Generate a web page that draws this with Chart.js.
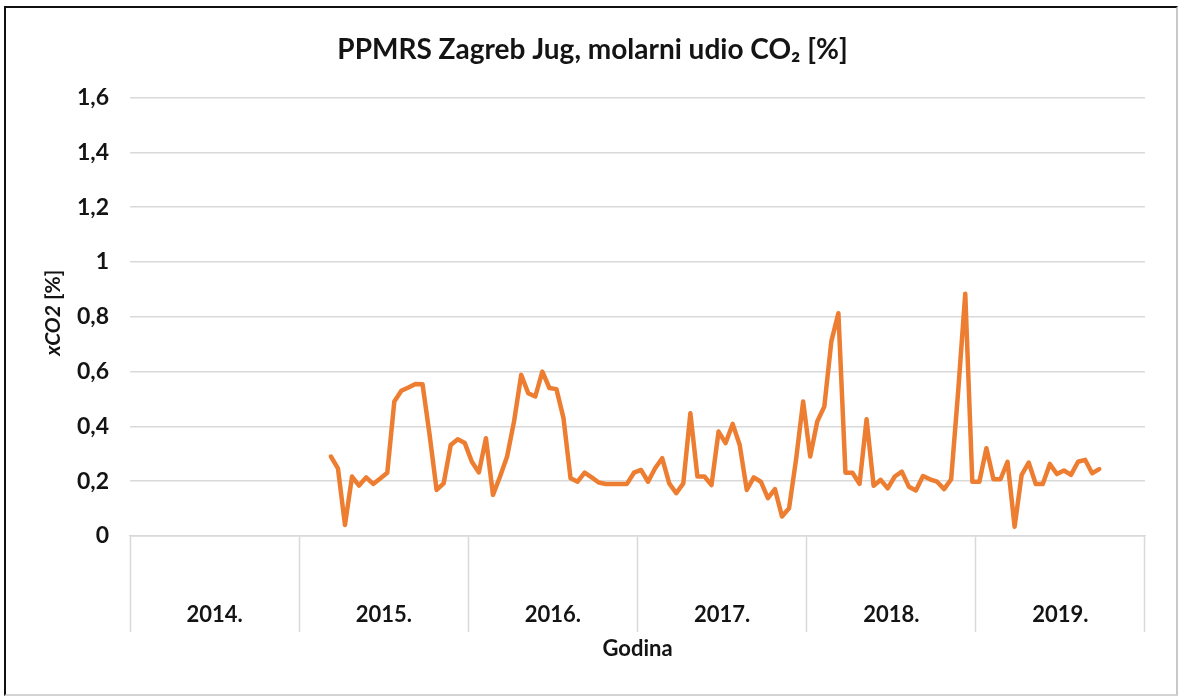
<!DOCTYPE html>
<html>
<head>
<meta charset="utf-8">
<script src="https://cdn.jsdelivr.net/npm/chart.js@4.4.0/dist/chart.umd.min.js"></script>
<style>
  html, body { margin: 0; padding: 0; background: #fff; }
  #frame { position: absolute; left: 4px; top: 6px; width: 1170px; height: 686px;
    border-left: 2px solid #111; border-top: 2px solid #111;
    border-right: 2px solid #c8c8c8; border-bottom: 2px solid #d4d4d4; }
  canvas { display: block; }
</style>
</head>
<body>
<div id="frame"><canvas id="myChart" width="1170" height="686"></canvas></div>
<script>
const years = ['2014.', '2015.', '2016.', '2017.', '2018.', '2019.'];
const slotsPerYear = 24; // about two readings a month

// xCO2 [%] readings per year, null = no measurement
const v2014 = [];
const v2015 = [null, null, null, null, 0.29, 0.247, 0.04, 0.217, 0.184, 0.214, 0.19, 0.21,
  0.231, 0.491, 0.53, 0.542, 0.555, 0.554, 0.37, 0.168, 0.192, 0.332, 0.353, 0.339];
const v2016 = [0.271, 0.232, 0.357, 0.15, 0.217, 0.29, 0.42, 0.588, 0.521, 0.509, 0.6, 0.54,
  0.536, 0.43, 0.211, 0.198, 0.231, 0.214, 0.195, 0.19, 0.19, 0.19, 0.19, 0.231];
const v2017 = [0.241, 0.198, 0.247, 0.284, 0.192, 0.156, 0.192, 0.448, 0.217, 0.217, 0.186, 0.381,
  0.339, 0.409, 0.332, 0.168, 0.214, 0.198, 0.138, 0.171, 0.071, 0.101, 0.28, 0.491];
const v2018 = [0.29, 0.418, 0.472, 0.71, 0.813, 0.231, 0.231, 0.19, 0.426, 0.183, 0.205, 0.174,
  0.217, 0.235, 0.18, 0.166, 0.219, 0.207, 0.198, 0.171, 0.207, 0.53, 0.884, 0.198];
const v2019 = [0.198, 0.32, 0.207, 0.207, 0.271, 0.034, 0.223, 0.268, 0.19, 0.19, 0.263, 0.226,
  0.239, 0.223, 0.271, 0.278, 0.229, 0.244];

const yTicks = [0, 0.2, 0.4, 0.6, 0.8, 1, 1.2, 1.4, 1.6];

const font = 'Lato, "Noto Sans", sans-serif';
const textColor = '#141414';
const gridColor = '#d9d9d9';

// each year gets the same number of slots, like the grouped axis in the original
const perYear = [v2014, v2015, v2016, v2017, v2018, v2019];
const labels = [];
const values = [];
perYear.forEach((arr, i) => {
  for (let k = 0; k < slotsPerYear; k++) {
    labels.push(years[i]);
    values.push(k < arr.length ? arr[k] : null);
  }
});

const yTitle = {
  id: 'yTitle',
  afterDraw(chart) {
    const { ctx, chartArea } = chart;
    ctx.save();
    ctx.translate(47, (chartArea.top + chartArea.bottom) / 2 - 4);
    ctx.rotate(-Math.PI / 2);
    ctx.fillStyle = textColor;
    ctx.textBaseline = 'middle';
    ctx.textAlign = 'left';
    const f1 = 'italic bold 21px ' + font;
    const f2 = 'bold 21px ' + font;
    ctx.font = f1;
    const w1 = ctx.measureText('xCO2').width;
    ctx.font = f2;
    const w2 = ctx.measureText(' [%]').width;
    const x = -(w1 + w2) / 2;
    ctx.font = f1;
    ctx.fillText('xCO2', x, 0);
    ctx.font = f2;
    ctx.fillText(' [%]', x + w1, 0);
    ctx.restore();
  }
};

new Chart(document.getElementById('myChart').getContext('2d'), {
  type: 'line',
  data: {
    labels: labels,
    datasets: [{
      label: 'xCO2',
      data: values,
      borderColor: '#ED7D31',
      backgroundColor: '#ED7D31',
      borderWidth: 4.5,
      pointRadius: 0,
      tension: 0,
      borderJoinStyle: 'round',
      borderCapStyle: 'round'
    }]
  },
  options: {
    responsive: false,
    animation: false,
    layout: { padding: { left: 34, right: 31, top: 0, bottom: 0 } },
    plugins: {
      legend: { display: false },
      tooltip: { enabled: false },
      title: {
        display: true,
        text: 'PPMRS Zagreb Jug, molarni udio CO₂ [%]',
        color: textColor,
        font: { family: font, size: 28, weight: 'bold' },
        padding: { top: 25.2, bottom: 30.7 }
      }
    },
    scales: {
      x: {
        type: 'category',
        offset: true,
        grid: {
          offset: true,
          drawOnChartArea: false,
          drawTicks: true,
          tickLength: 96,
          tickWidth: 1.5,
          tickColor: c => (c.index === undefined || c.index % slotsPerYear === 0) ? gridColor : 'rgba(0,0,0,0)'
        },
        border: { color: gridColor, width: 1.5 },
        ticks: {
          autoSkip: false,
          maxRotation: 0,
          minRotation: 0,
          padding: -30,
          labelOffset: -3.5,
          color: textColor,
          font: { family: font, size: 22, weight: 'bold' },
          callback: (v, i) => i % slotsPerYear === slotsPerYear / 2 ? years[Math.floor(i / slotsPerYear)] : ''
        },
        title: {
          display: true,
          text: 'Godina',
          color: textColor,
          font: { family: font, size: 22, weight: 'bold' },
          padding: { top: 0, bottom: 32 }
        },
        afterFit(s) { s.height = 158; }
      },
      y: {
        min: 0,
        max: 1.6,
        afterBuildTicks(s) { s.ticks = yTicks.map(v => ({ value: v })); },
        ticks: {
          padding: 21,
          color: textColor,
          font: { family: font, size: 23, weight: 'bold' },
          callback: v => String(v).replace('.', ',')
        },
        grid: { color: gridColor, lineWidth: 1.5, drawTicks: false },
        border: { display: false },
        afterFit(s) { s.width = 90; }
      }
    }
  },
  plugins: [yTitle]
});
</script>
</body>
</html>
